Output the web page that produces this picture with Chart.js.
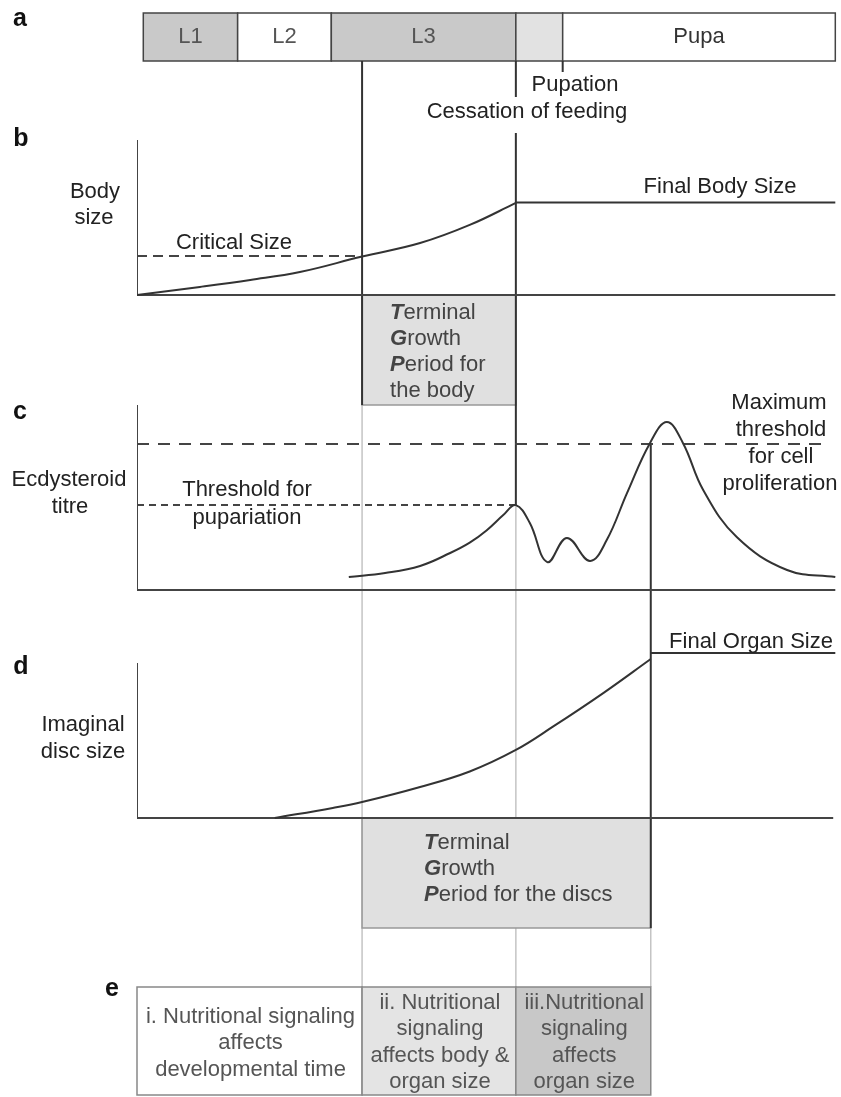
<!DOCTYPE html>
<html><head><meta charset="utf-8">
<script src="https://cdn.jsdelivr.net/npm/chart.js@4/dist/chart.umd.min.js"></script>
<style>html,body{margin:0;padding:0;background:#fff;}#wrap{position:relative;width:841px;height:1097px;}</style>
</head><body><div id="wrap"><canvas id="c" width="841" height="1097"></canvas></div>
<script>
// ---------- data (time axis 0..100) ----------
const stageNames = ['L1', 'L2', 'L3', '', 'Pupa'];
const stageEdges = [0.9, 14.4, 27.8, 54.2, 60.9, 99.9];
const criticalTime = 32.2;
const pupariationTime = 54.2;
const discStopTime = 73.5;
const axisEnd = 99.9;

const bodyT = [0, 9.0, 16.2, 23.3, 32.2, 40.5, 47.6, 54.2];
const bodyV = [0, 5.2, 9.7, 14.8, 24.8, 33.5, 45.2, 59.4];
const finalBodySize = 59.7;
const criticalSize = 25.2;

const ecdT = [30.3, 35.5, 40.5, 44.8, 47.6, 50.0, 52.4, 54.2, 56.2, 58.7, 61.5, 64.8, 67.2, 70.1, 73.4, 75.8, 78.1, 81.0, 85.8, 93.0, 99.9];
const ecdV = [7.0, 9.2, 13.0, 20.0, 25.6, 32.2, 40.5, 45.9, 36.2, 15.1, 28.1, 15.7, 27.0, 52.4, 79.5, 90.8, 79.5, 54.1, 28.6, 10.8, 7.0];
const maxThreshold = 78.9;
const pupThreshold = 45.9;
const maxThresholdEnd = 98.0;

const discT = [19.7, 28.0, 32.2, 40.5, 47.6, 54.2, 59.5, 66.7, 73.5];
const discV = [0, 6.5, 10.3, 20.0, 30.0, 43.9, 58.9, 80.6, 102.6];
const finalOrganSize = 106.5;

// ---------- layout helpers ----------
const H = 1097;
function rangeFor(pBase, pTop) { // value 0 at pBase, 100 at pTop
  const R = 100 * H / (pBase - pTop);
  const max = pBase * R / H;
  return { min: max - R, max: max };
}
const rB = rangeFor(295, 140), rC = rangeFor(590, 405), rD = rangeFor(818, 663);
const pts = (T, V) => T.map((t, i) => ({ x: t, y: V[i] }));
const FONT = '"Liberation Sans", Arial, Helvetica, sans-serif';
const DARK = '#333';

function line(data, axis, extra) {
  return Object.assign({ data: data, yAxisID: axis, showLine: true, borderColor: DARK, borderWidth: 2,
    pointRadius: 0, fill: false, tension: 0 }, extra || {});
}

const datasets = [
  line(pts(bodyT, bodyV), 'yB', { tension: 0.4 }),
  line([{ x: pupariationTime, y: finalBodySize }, { x: axisEnd, y: finalBodySize }], 'yB'),
  line([{ x: 0, y: criticalSize }, { x: criticalTime, y: criticalSize }], 'yB', { borderDash: [10, 6], borderColor: '#444' }),
  line([{ x: 0, y: 100 }, { x: 0, y: 0 }, { x: axisEnd, y: 0 }], 'yB', { borderColor: '#444' }),
  line(pts(ecdT, ecdV), 'yC', { tension: 0.4 }),
  line([{ x: 0, y: maxThreshold }, { x: maxThresholdEnd, y: maxThreshold }], 'yC', { borderDash: [12, 9], borderColor: '#444' }),
  line([{ x: 0, y: pupThreshold }, { x: pupariationTime, y: pupThreshold }], 'yC', { borderDash: [7, 5], borderColor: '#444' }),
  line([{ x: 0, y: 100 }, { x: 0, y: 0 }, { x: axisEnd, y: 0 }], 'yC', { borderColor: '#444' }),
  line(pts(discT, discV), 'yD', { tension: 0.4 }),
  line([{ x: discStopTime, y: finalOrganSize }, { x: axisEnd, y: finalOrganSize }], 'yD'),
  line([{ x: 0, y: 100 }, { x: 0, y: 0 }, { x: 99.6, y: 0 }], 'yD', { borderColor: '#444' })
];

function text(ctx, s, x, y, align, color, font) {
  ctx.font = font || ('22px ' + FONT);
  ctx.fillStyle = color || '#222';
  ctx.textAlign = align || 'center';
  ctx.textBaseline = 'middle';
  ctx.fillText(s, x, y);
}
function tgpLine(ctx, first, rest, x, y) {
  ctx.textBaseline = 'middle'; ctx.textAlign = 'left'; ctx.fillStyle = '#444';
  ctx.font = 'bold italic 22px ' + FONT;
  ctx.fillText(first, x, y);
  const w = ctx.measureText(first).width;
  ctx.font = '22px ' + FONT;
  ctx.fillText(rest, x + w, y);
}

const stageFill = ['#c9c9c9', '#ffffff', '#c9c9c9', '#e2e2e2', '#ffffff'];
const eFill = ['#ffffff', '#e4e4e4', '#c8c8c8'];

const overlay = {
  id: 'overlay',
  beforeDatasetsDraw(chart) {
    const ctx = chart.ctx, X = chart.scales.x, yB = chart.scales.yB, yC = chart.scales.yC, yD = chart.scales.yD;
    const px = t => X.getPixelForValue(t);
    ctx.save();
    // stage bar
    const barTop = 13, barBot = 61;
    for (let i = 0; i < stageNames.length; i++) {
      const x0 = px(stageEdges[i]), x1 = px(stageEdges[i + 1]);
      ctx.fillStyle = stageFill[i];
      ctx.fillRect(x0, barTop, x1 - x0, barBot - barTop);
      ctx.strokeStyle = '#444'; ctx.lineWidth = 1.5;
      ctx.strokeRect(x0, barTop, x1 - x0, barBot - barTop);
    }
    // light guide lines
    const eTop = 987, eBot = 1095;
    ctx.strokeStyle = '#c4c4c4'; ctx.lineWidth = 1.5;
    const vline = (t, a, b) => { ctx.beginPath(); ctx.moveTo(px(t), a); ctx.lineTo(px(t), b); ctx.stroke(); };
    vline(criticalTime, 405, eTop);
    vline(pupariationTime, yC.getPixelForValue(pupThreshold), eTop);
    vline(discStopTime, 928, eTop);
    // TGP boxes
    const b0 = yB.getPixelForValue(0), d0 = yD.getPixelForValue(0);
    ctx.fillStyle = '#e0e0e0'; ctx.strokeStyle = '#999'; ctx.lineWidth = 1.5;
    let x0 = px(criticalTime), x1 = px(pupariationTime);
    ctx.fillRect(x0, b0, x1 - x0, 405 - b0); ctx.strokeRect(x0, b0, x1 - x0, 405 - b0);
    x1 = px(discStopTime);
    ctx.fillStyle = '#e0e0e0';
    ctx.fillRect(x0, d0, x1 - x0, 928 - d0); ctx.strokeRect(x0, d0, x1 - x0, 928 - d0);
    // e boxes
    const eEdges = [0, criticalTime, pupariationTime, discStopTime];
    for (let i = 0; i < 3; i++) {
      const a = px(eEdges[i]), b = px(eEdges[i + 1]);
      ctx.fillStyle = eFill[i]; ctx.fillRect(a, eTop, b - a, eBot - eTop);
      ctx.strokeStyle = '#888'; ctx.lineWidth = 1.5; ctx.strokeRect(a, eTop, b - a, eBot - eTop);
    }
    // dark vertical lines
    ctx.strokeStyle = DARK; ctx.lineWidth = 2;
    vline(criticalTime, barBot, 405);
    vline(pupariationTime, barBot, 97);
    vline(pupariationTime, 133, yC.getPixelForValue(pupThreshold));
    vline(stageEdges[4], barBot, 72);
    vline(discStopTime, yC.getPixelForValue(maxThreshold), 928);
    ctx.restore();
  },
  afterDatasetsDraw(chart) {
    const ctx = chart.ctx, X = chart.scales.x;
    const px = t => X.getPixelForValue(t);
    ctx.save();
    // panel letters
    const LF = 'bold 25px ' + FONT;
    text(ctx, 'a', 20, 19, 'center', '#111', LF);
    text(ctx, 'b', 21, 139, 'center', '#111', LF);
    text(ctx, 'c', 20, 412, 'center', '#111', LF);
    text(ctx, 'd', 21, 667, 'center', '#111', LF);
    text(ctx, 'e', 112, 989, 'center', '#111', LF);
    // stage labels
    for (let i = 0; i < stageNames.length; i++) {
      if (!stageNames[i]) continue;
      const c = (px(stageEdges[i]) + px(stageEdges[i + 1])) / 2;
      text(ctx, stageNames[i], c, 37, 'center', i === 4 ? '#333' : '#555');
    }
    text(ctx, 'Pupation', 575, 85);
    text(ctx, 'Cessation of feeding', 527, 112);
    // panel b
    text(ctx, 'Body', 95, 192); text(ctx, 'size', 94, 218);
    text(ctx, 'Critical Size', 234, 243);
    text(ctx, 'Final Body Size', 720, 187);
    const tx = px(criticalTime) + 28;
    tgpLine(ctx, 'T', 'erminal', tx, 313);
    tgpLine(ctx, 'G', 'rowth', tx, 339);
    tgpLine(ctx, 'P', 'eriod for', tx, 365);
    tgpLine(ctx, '', 'the body', tx, 391);
    // panel c
    text(ctx, 'Ecdysteroid', 69, 480); text(ctx, 'titre', 70, 507);
    text(ctx, 'Threshold for', 247, 490); text(ctx, 'pupariation', 247, 518);
    text(ctx, 'Maximum', 779, 403); text(ctx, 'threshold', 781, 430);
    text(ctx, 'for cell', 781, 457); text(ctx, 'proliferation', 780, 484);
    // panel d
    text(ctx, 'Imaginal', 83, 725); text(ctx, 'disc size', 83, 752);
    text(ctx, 'Final Organ Size', 751, 642);
    const dx = px(criticalTime) + 62;
    tgpLine(ctx, 'T', 'erminal', dx, 843);
    tgpLine(ctx, 'G', 'rowth', dx, 869);
    tgpLine(ctx, 'P', 'eriod for the discs', dx, 895);
    // panel e
    const eEdges = [0, criticalTime, pupariationTime, discStopTime];
    const eText = [
      ['i. Nutritional signaling', 'affects', 'developmental time'],
      ['ii. Nutritional', 'signaling', 'affects body &', 'organ size'],
      ['iii.Nutritional', 'signaling', 'affects', 'organ size']
    ];
    for (let i = 0; i < 3; i++) {
      const c = (px(eEdges[i]) + px(eEdges[i + 1])) / 2 + 1;
      const lines = eText[i];
      const start = lines.length === 3 ? 1017 : 1003;
      lines.forEach((s, k) => text(ctx, s, c, start + k * 26.3, 'center', '#555'));
    }
    ctx.restore();
  }
};

new Chart(document.getElementById('c'), {
  type: 'scatter',
  data: { datasets: datasets },
  options: {
    responsive: false, animation: false, events: [],
    layout: { padding: { left: 137, right: 5, top: 0, bottom: 0 } },
    plugins: { legend: { display: false }, tooltip: { enabled: false } },
    scales: {
      x: { type: 'linear', min: 0, max: 100, display: false },
      yB: { type: 'linear', min: rB.min, max: rB.max, display: false },
      yC: { type: 'linear', min: rC.min, max: rC.max, display: false },
      yD: { type: 'linear', min: rD.min, max: rD.max, display: false }
    }
  },
  plugins: [overlay]
});
</script></body></html>
